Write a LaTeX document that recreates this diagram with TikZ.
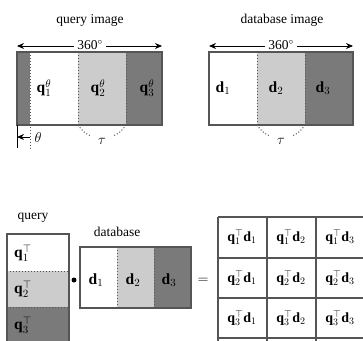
\documentclass[tikz,border=0pt]{standalone}
\usepackage{fontspec}
\setmainfont{Liberation Serif}
\usetikzlibrary{arrows.meta}
\definecolor{dk}{RGB}{122,122,122}
\definecolor{lt}{RGB}{204,204,204}
\definecolor{ln}{RGB}{85,85,85}
\tikzset{
  box/.style={draw=ln, line width=1.3pt},
  divline/.style={line width=1pt, dotted, ln},
  lab/.style={font=\fontsize{13.5}{16}\selectfont, inner sep=0pt},
  qlab/.style={font=\fontsize{15.5}{18}\selectfont, inner sep=0pt},
  mlab/.style={font=\fontsize{14}{16}\selectfont, inner sep=0pt},
  arr/.style={line width=0.9pt, -{Stealth[length=7pt,width=6pt]}},
  grid/.style={draw=ln, line width=1.4pt}
}
\begin{document}
\begin{tikzpicture}[x=1pt,y=-1pt]
\useasboundingbox (0,0) rectangle (363,340);
\clip (0,0) rectangle (363,340);
% ---------- query image ----------
\node[lab] (qi) at (90,20) {query image};
\node[lab] (q360) at (90,45) {360$^\circ$};
\coordinate (qL) at (17,46); \coordinate (qR) at (162,46);
\draw[arr] (q360.west) ++(-3,1) -- (qL);
\draw[arr] (q360.east) ++(3,1) -- (qR);
\fill[dk] (17,52) rectangle (30,125);
\fill[lt] (78,52) rectangle (126,125);
\fill[dk] (126,52) rectangle (162,125);
\draw[box] (17,52) rectangle (162,125);
\draw[divline] (30,52) -- (30,150);
\draw[divline] (78,52) -- (78,125);
\draw[divline] (126,52) -- (126,125);
\node[qlab] (q1) at (44,88) {$\mathbf{q}^\theta_1$};
\node[qlab] (q2) at (98,88) {$\mathbf{q}^\theta_2$};
\node[qlab] (q3) at (147,88) {$\mathbf{q}^\theta_3$};
\draw[line width=0.9pt] (17,125) -- (17,148);
\coordinate (thA) at (30,137); \coordinate (thB) at (17,137);
\draw[arr] (thA) -- (thB);
\node[lab] (th) at (38,137) {$\theta$};
\node[lab] (tq) at (102,141) {$\tau$};
\draw[divline] (78,125) .. controls (82,131) and (86,134) .. (91,136);
\draw[divline] (126,125) .. controls (122,131) and (118,134) .. (113,136);
% ---------- database image ----------
\node[lab] (di) at (282,20) {database image};
\node[lab] (d360) at (281,45) {360$^\circ$};
\coordinate (dL) at (209,46); \coordinate (dR) at (353,46);
\draw[arr] (d360.west) ++(-3,1) -- (dL);
\draw[arr] (d360.east) ++(3,1) -- (dR);
\fill[lt] (257,52) rectangle (305,125);
\fill[dk] (305,52) rectangle (353,125);
\draw[box] (209,52) rectangle (353,125);
\draw[divline] (257,52) -- (257,125);
\draw[divline] (305,52) -- (305,125);
\node[qlab] (d1) at (223,88) {$\mathbf{d}_1$};
\node[qlab] (d2) at (276,88) {$\mathbf{d}_2$};
\node[qlab] (d3) at (323,88) {$\mathbf{d}_3$};
\node[lab] (td) at (281,141) {$\tau$};
\draw[divline] (257,125) .. controls (261,131) and (265,134) .. (270,136);
\draw[divline] (305,125) .. controls (301,131) and (297,134) .. (292,136);
% ---------- bottom: query column ----------
\node[lab] (ql) at (33,218) {query};
\fill[lt] (7,271) rectangle (69,307);
\fill[dk] (7,307) rectangle (69,350);
\draw[box] (7,350) -- (7,234) -- (69,234) -- (69,350);
\draw[divline] (7,271) -- (69,271);
\draw[divline] (7,307) -- (69,307);
\node[qlab] (b1) at (23,253) {$\mathbf{q}^\top_1$};
\node[qlab] (b2) at (23,289) {$\mathbf{q}^\top_2$};
\node[qlab] (b3) at (23,325) {$\mathbf{q}^\top_3$};
\node[circle, fill=black, inner sep=0pt, minimum size=5pt] (dot) at (74,280) {};
% ---------- bottom: database row ----------
\node[lab] (dl) at (117,232) {database};
\fill[lt] (117,247) rectangle (154,308);
\fill[dk] (154,247) rectangle (191,308);
\draw[box] (80,247) rectangle (191,308);
\draw[divline] (117,247) -- (117,308);
\draw[divline] (154,247) -- (154,308);
\node[qlab] (e1) at (96,280) {$\mathbf{d}_1$};
\node[qlab] (e2) at (133,280) {$\mathbf{d}_2$};
\node[qlab] (e3) at (169,280) {$\mathbf{d}_3$};
\node[lab] (eq) at (203,281) {$=$};
% ---------- matrix ----------
\foreach \x in {218,267,316,365} \draw[grid] (\x,217) -- (\x,345);
\foreach \y in {217,258,298,338} \draw[grid] (218,\y) -- (370,\y);
\foreach \r/\yy in {1/237,2/278,3/318} {
  \foreach \c/\xx in {1/242,2/291,3/340} {
    \node[mlab] (m\r\c) at (\xx,\yy) {$\mathbf{q}^\top_\r\mathbf{d}_\c$};
  }
}
\end{tikzpicture}
\end{document}
